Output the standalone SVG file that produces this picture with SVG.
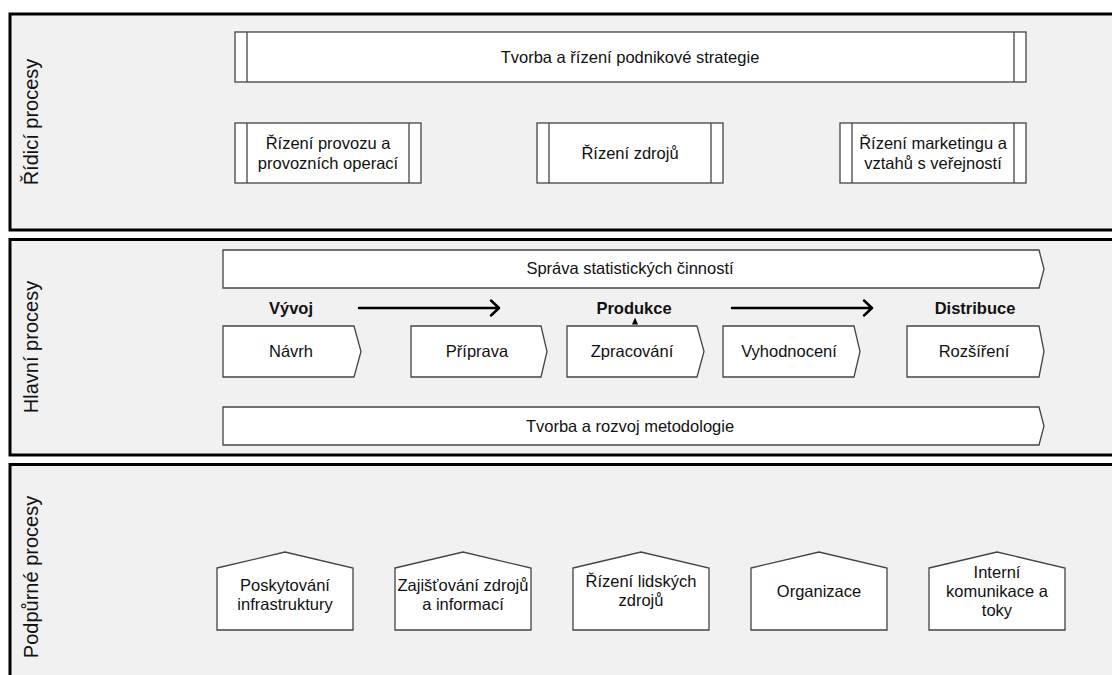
<svg xmlns="http://www.w3.org/2000/svg" width="1112" height="675" viewBox="0 0 1112 675">
  <defs>
    <style>
      .lane { fill: #f1f1f1; stroke: #000; stroke-width: 3; }
      .lane-label { font-family: "Liberation Sans", Arial, sans-serif; font-size: 20px; fill: #111; text-anchor: middle; }
      .shape { fill: #fff; stroke: #444; stroke-width: 1.3; }
      .bar { fill: none; stroke: #444; stroke-width: 1.3; }
      .txt { font-family: "Liberation Sans", Arial, sans-serif; font-size: 16.5px; fill: #111; text-anchor: middle; dominant-baseline: central; }
      .phase { font-family: "Liberation Sans", Arial, sans-serif; font-size: 16.5px; font-weight: bold; fill: #111; text-anchor: middle; dominant-baseline: central; }
      .flow { fill: none; stroke: #000; stroke-width: 2.5; stroke-linecap: round; stroke-linejoin: round; }
    </style>
  </defs>

  <!-- Swimlanes -->
  <g id="lane-ridici">
    <rect class="lane" x="10" y="14" width="1110" height="216"/>
    <text class="lane-label" transform="translate(38,122) rotate(-90)">Řídicí procesy</text>
  </g>
  <g id="lane-hlavni">
    <rect class="lane" x="10" y="239.5" width="1110" height="215.5"/>
    <text class="lane-label" transform="translate(38,347) rotate(-90)">Hlavní procesy</text>
  </g>
  <g id="lane-podpurne">
    <rect class="lane" x="10" y="464.5" width="1110" height="220"/>
    <text class="lane-label" transform="translate(38,577) rotate(-90)">Podpůrné procesy</text>
  </g>

  <!-- Management processes (predefined-process boxes) -->
  <g id="strategie">
    <rect class="shape" x="235" y="32" width="791" height="50"/>
    <line class="bar" x1="247" y1="32" x2="247" y2="82"/>
    <line class="bar" x1="1014" y1="32" x2="1014" y2="82"/>
    <text class="txt" x="630" y="57">Tvorba a řízení podnikové strategie</text>
  </g>
  <g id="rizeni-provozu">
    <rect class="shape" x="235" y="123" width="186" height="60"/>
    <line class="bar" x1="247" y1="123" x2="247" y2="183"/>
    <line class="bar" x1="409" y1="123" x2="409" y2="183"/>
    <text class="txt" x="328" y="143">Řízení provozu a</text>
    <text class="txt" x="328" y="163">provozních operací</text>
  </g>
  <g id="rizeni-zdroju">
    <rect class="shape" x="537" y="123" width="186" height="60"/>
    <line class="bar" x1="549" y1="123" x2="549" y2="183"/>
    <line class="bar" x1="711" y1="123" x2="711" y2="183"/>
    <text class="txt" x="630" y="153">Řízení zdrojů</text>
  </g>
  <g id="rizeni-marketingu">
    <rect class="shape" x="840" y="123" width="186" height="60"/>
    <line class="bar" x1="852" y1="123" x2="852" y2="183"/>
    <line class="bar" x1="1014" y1="123" x2="1014" y2="183"/>
    <text class="txt" x="933" y="143">Řízení marketingu a</text>
    <text class="txt" x="933" y="163">vztahů s veřejností</text>
  </g>

  <!-- Core processes -->
  <g id="sprava">
    <path class="shape" d="M223,250 H1039 L1044,269 L1039,288 H223 Z"/>
    <text class="txt" x="630" y="268">Správa statistických činností</text>
  </g>
  <g id="vyvoj"><text class="phase" x="291" y="308">Vývoj</text></g>
  <g id="produkce"><text class="phase" x="634" y="308">Produkce</text></g>
  <g id="distribuce"><text class="phase" x="975" y="308">Distribuce</text></g>

  <g id="navrh">
    <path class="shape" d="M223,326 H354 L361,351.5 L354,377 H223 Z"/>
    <text class="txt" x="291" y="351">Návrh</text>
  </g>
  <g id="priprava">
    <path class="shape" d="M411,326 H541 L547,351.5 L541,377 H411 Z"/>
    <text class="txt" x="477" y="351">Příprava</text>
  </g>
  <g id="zpracovani">
    <path class="shape" d="M567,326 H697 L704,351.5 L697,377 H567 Z"/>
    <text class="txt" x="632" y="351">Zpracování</text>
  </g>
  <g id="vyhodnoceni">
    <path class="shape" d="M723,326 H854 L860,351.5 L854,377 H723 Z"/>
    <text class="txt" x="789" y="351">Vyhodnocení</text>
  </g>
  <g id="rozsireni">
    <path class="shape" d="M907,326 H1039 L1044,351.5 L1039,377 H907 Z"/>
    <text class="txt" x="974" y="351">Rozšíření</text>
  </g>

  <g id="metodologie">
    <path class="shape" d="M223,407 H1039 L1044,426 L1039,445 H223 Z"/>
    <text class="txt" x="630" y="426">Tvorba a rozvoj metodologie</text>
  </g>

  <!-- Support processes (house shapes) -->
  <g id="infrastruktura">
    <path class="shape" d="M217,568 L285,552 L353,568 V630 H217 Z"/>
    <text class="txt" x="285" y="585">Poskytování</text>
    <text class="txt" x="285" y="604">infrastruktury</text>
  </g>
  <g id="zajistovani">
    <path class="shape" d="M395,568 L463,552 L531,568 V630 H395 Z"/>
    <text class="txt" x="463" y="585">Zajišťování zdrojů</text>
    <text class="txt" x="463" y="604">a informací</text>
  </g>
  <g id="lidske-zdroje">
    <path class="shape" d="M573,568 L641,552 L709,568 V630 H573 Z"/>
    <text class="txt" x="641" y="581">Řízení lidských</text>
    <text class="txt" x="641" y="600">zdrojů</text>
  </g>
  <g id="organizace">
    <path class="shape" d="M751,568 L819,552 L887,568 V630 H751 Z"/>
    <text class="txt" x="819" y="591">Organizace</text>
  </g>
  <g id="interni-komunikace">
    <path class="shape" d="M929,568 L997,552 L1065,568 V630 H929 Z"/>
    <text class="txt" x="997" y="572">Interní</text>
    <text class="txt" x="997" y="591">komunikace a</text>
    <text class="txt" x="997" y="610">toky</text>
  </g>

  <!-- Connectors -->
  <g id="connectors">
    <path class="flow" d="M359,308 H499 M491,300.5 L499,308 L491,315.5"/>
    <path class="flow" d="M732,308 H872 M864,300.5 L872,308 L864,315.5"/>
    <path d="M635,317.5 L638,324.5 H632 Z" fill="#000"/>
  </g>
</svg>
